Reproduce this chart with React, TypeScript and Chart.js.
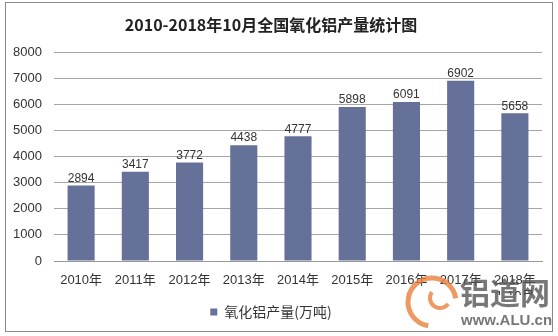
import React, { useEffect, useRef } from "react";
import { Chart, registerables } from "chart.js";

Chart.register(...registerables);

const title = "2010-2018年10月全国氧化铝产量统计图";
const categories: (string | string[])[] = [
  "2010年", "2011年", "2012年", "2013年", "2014年", "2015年", "2016年", "2017年", ["2018年", "1-10月"],
];
const seriesName = "氧化铝产量(万吨)";
const values = [2894, 3417, 3772, 4438, 4777, 5898, 6091, 6902, 5658];
const yTicks = [0, 1000, 2000, 3000, 4000, 5000, 6000, 7000, 8000];

const BAR = "#66719A";
const FONT = "'Liberation Sans', Arial, 'Noto Sans CJK SC', sans-serif";
const CJK = "'Noto Sans CJK SC', 'Liberation Sans', sans-serif";

const framePlugin = {
  id: "frame",
  beforeDraw(chart: any) {
    const { ctx } = chart;
    ctx.save();
    ctx.fillStyle = "#ffffff";
    ctx.fillRect(0, 0, chart.width, chart.height);
    ctx.strokeStyle = "#8a8a8a";
    ctx.lineWidth = 1;
    ctx.strokeRect(5.5, 2.5, 547, 329);
    ctx.restore();
  },
};

const labelPlugin = {
  id: "barLabels",
  afterDatasetsDraw(chart: any) {
    const { ctx } = chart;
    const meta = chart.getDatasetMeta(0);
    ctx.save();
    ctx.font = `12px ${FONT}`;
    ctx.fillStyle = "#333333";
    ctx.textAlign = "center";
    ctx.textBaseline = "bottom";
    meta.data.forEach((el: any, i: number) => {
      ctx.fillText(String(values[i]), el.x, el.y - 1);
    });
    ctx.restore();
  },
};

const watermarkPlugin = {
  id: "watermark",
  afterDraw(chart: any) {
    const { ctx } = chart;
    ctx.save();
    ctx.globalAlpha = 0.8;
    ctx.strokeStyle = "#e8803a";
    ctx.lineWidth = 5;
    ctx.beginPath();
    ctx.arc(432, 302, 24, Math.PI * 0.55, Math.PI * 1.95);
    ctx.stroke();
    ctx.lineWidth = 4;
    ctx.beginPath();
    ctx.arc(440, 298, 10, Math.PI * 0.2, Math.PI * 1.2);
    ctx.stroke();
    ctx.fillStyle = "#555555";
    ctx.font = `bold 30px ${CJK}`;
    ctx.textAlign = "left";
    ctx.textBaseline = "middle";
    ctx.fillText("铝道网", 460, 293);
    ctx.font = `bold 15px ${FONT}`;
    ctx.fillText("www.ALU.cn", 461, 321);
    ctx.restore();
  },
};

export default function App() {
  const ref = useRef<HTMLCanvasElement | null>(null);
  useEffect(() => {
    document.body.style.margin = "0";
    if (!ref.current) return;
    const chart = new Chart(ref.current, {
      type: "bar",
      data: {
        labels: categories,
        datasets: [
          {
            label: seriesName,
            data: values,
            backgroundColor: BAR,
            borderWidth: 0,
            barPercentage: 0.5,
            categoryPercentage: 1,
          },
        ],
      },
      options: {
        animation: false,
        responsive: false,
        maintainAspectRatio: false,
        layout: { padding: { left: 0, right: 16, top: 0, bottom: 7 } },
        plugins: {
          title: {
            display: true,
            text: title,
            color: "#222222",
            font: { family: CJK, size: 16, weight: "bold" },
            padding: { top: 15, bottom: 18 },
          },
          legend: {
            position: "bottom",
            labels: {
              color: "#333333",
              font: { family: CJK, size: 14 },
              boxWidth: 7,
              boxHeight: 7,
              padding: 10,
            },
          },
          tooltip: { enabled: false },
        },
        scales: {
          x: {
            afterFit(s: any) {
              s.height = 34;
            },
            grid: { display: false, drawTicks: false },
            border: { display: true, color: "#999999" },
            ticks: {
              color: "#333333",
              font: { family: FONT, size: 13 },
              padding: 12,
              maxRotation: 0,
              autoSkip: false,
            },
          },
          y: {
            min: 0,
            max: 8000,
            afterFit(s: any) {
              s.width = 54;
            },
            afterBuildTicks(s: any) {
              s.ticks = yTicks.map((v) => ({ value: v }));
            },
            grid: { color: "#a6a6a6", drawTicks: false },
            border: { display: false },
            ticks: {
              color: "#333333",
              font: { family: FONT, size: 13 },
              padding: 12,
              callback: (v: any) => String(v),
            },
          },
        },
      },
      plugins: [framePlugin, labelPlugin, watermarkPlugin],
    });
    return () => chart.destroy();
  }, []);
  return (
    <div style={{ width: 558, height: 336 }}>
      <canvas ref={ref} width={558} height={336} style={{ display: "block" }} />
    </div>
  );
}
